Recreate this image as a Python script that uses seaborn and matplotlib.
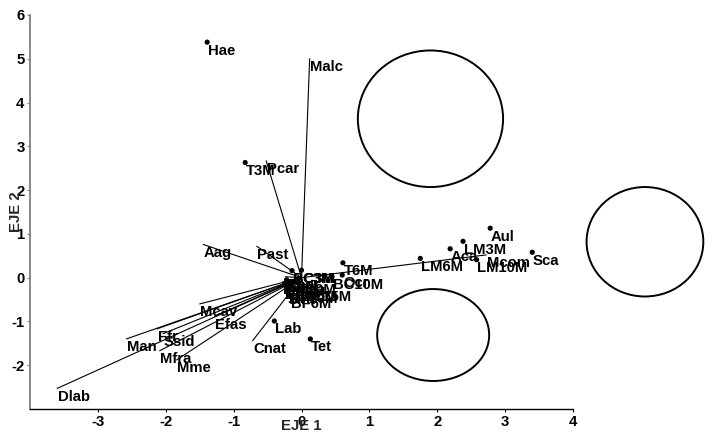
import numpy as np
import pandas as pd
import matplotlib
matplotlib.use("Agg")
import matplotlib.pyplot as plt
from matplotlib.patches import Ellipse
import seaborn as sns

# ---- data ----
point_labels = ["Hae", "T3M", "T6M", "LM6M", "Aca", "LM3M", "Aul", "LM10M", "Sca",
                "Lab", "Tet", "BC3M", "C3M", "BC10M", "Ocr", "C6M", "BF3M", "T10M",
                "BC6M", "BF10M", "BC15M", "BF6M"]
point_x = [-1.39, -0.83, 0.61, 1.75, 2.19, 2.38, 2.78, 2.58, 3.40,
           -0.40, 0.13, -0.14, 0.00, 0.45, 0.60, -0.22, -0.25, -0.05,
           -0.10, -0.20, -0.02, -0.16]
point_y = [5.38, 2.63, 0.34, 0.44, 0.66, 0.83, 1.13, 0.41, 0.58,
           -0.99, -1.40, 0.16, 0.17, 0.02, 0.06, -0.05, -0.15, -0.08,
           -0.25, -0.30, -0.25, -0.42]

vector_labels = ["Malc", "Pcar", "Aag", "Past", "Mcom", "Mcav", "Efas", "Ffr",
                 "Ssid", "Man", "Mfra", "Mme", "Dlab", "Cnat",
                 "Mmea", "Ppor", "Dsto", "Sint"]
vector_x = [0.12, -0.52, -1.45, -0.66, 2.72, -1.50, -1.28, -2.13,
            -2.04, -2.58, -2.09, -1.84, -3.60, -0.72,
            -0.28, -0.24, -0.26, -0.22]
vector_y = [5.00, 2.67, 0.76, 0.72, 0.52, -0.60, -0.88, -1.17,
            -1.28, -1.40, -1.67, -1.88, -2.53, -1.44,
            -0.10, 0.02, -0.20, -0.32]

# group ellipses: centre x, centre y, width, height
ell_cx = [1.90, 5.06, 1.94]
ell_cy = [3.63, 0.82, -1.31]
ell_w = [2.14, 1.72, 1.65]
ell_h = [3.12, 2.50, 2.10]

x_ticks = [-3, -2, -1, 0, 1, 2, 3, 4]
y_ticks = [-2, -1, 0, 1, 2, 3, 4, 5, 6]

# ---- figure ----
sns.set_theme(style="ticks")
plt.rcParams["font.family"] = ["Liberation Sans", "DejaVu Sans"]
plt.rcParams["font.weight"] = "bold"

fig = plt.figure(figsize=(7.12, 4.33), dpi=100)
ax = fig.add_axes([30 / 712, 1 - 409 / 433, 543 / 712, 394 / 433])

pts = pd.DataFrame({"x": point_x, "y": point_y, "label": point_labels})
vec = pd.DataFrame({"x": vector_x, "y": vector_y, "label": vector_labels})

# vectors from origin
for _, r in vec.iterrows():
    ax.plot([0, r.x], [0, r.y], color="black", lw=0.8, zorder=2)

sns.scatterplot(data=pts, x="x", y="y", color="black", s=14, edgecolor="none",
                ax=ax, zorder=3, legend=False)

FS = 10.7
for df in (pts, vec):
    for _, r in df.iterrows():
        ax.annotate(r.label, (r.x, r.y), xytext=(0.5, -1), textcoords="offset points",
                    ha="left", va="top", fontsize=FS, fontweight="bold", color="black",
                    zorder=4, annotation_clip=False)

for cx, cy, w, h in zip(ell_cx, ell_cy, ell_w, ell_h):
    ax.add_patch(Ellipse((cx, cy), w, h, fill=False, edgecolor="black", lw=1.4,
                         clip_on=False, zorder=2))

ax.set_xlim(-4, 4)
ax.set_ylim(-3, 6)
ax.set_xticks(x_ticks)
ax.set_yticks(y_ticks)
ax.set_xticklabels([str(t) for t in x_ticks], fontsize=FS, fontweight="bold")
ax.set_yticklabels([str(t) for t in y_ticks], fontsize=FS, fontweight="bold")
ax.tick_params(axis="both", length=2.5, width=0.8, pad=1.5, colors="black")
ax.tick_params(axis="y", color="#808080")

sns.despine(ax=ax)
ax.spines["left"].set_color("#808080")
ax.spines["left"].set_linewidth(1.3)
ax.spines["bottom"].set_color("black")
ax.spines["bottom"].set_linewidth(1.0)

ax.set_xlabel("EJE 1", fontsize=FS, fontweight="bold")
ax.set_ylabel("EJE 2", fontsize=FS, fontweight="bold")
ax.xaxis.set_label_coords(0.5, -0.025)
ax.yaxis.set_label_coords(-0.012, 0.5)

fig.savefig("out.png", dpi=100)
